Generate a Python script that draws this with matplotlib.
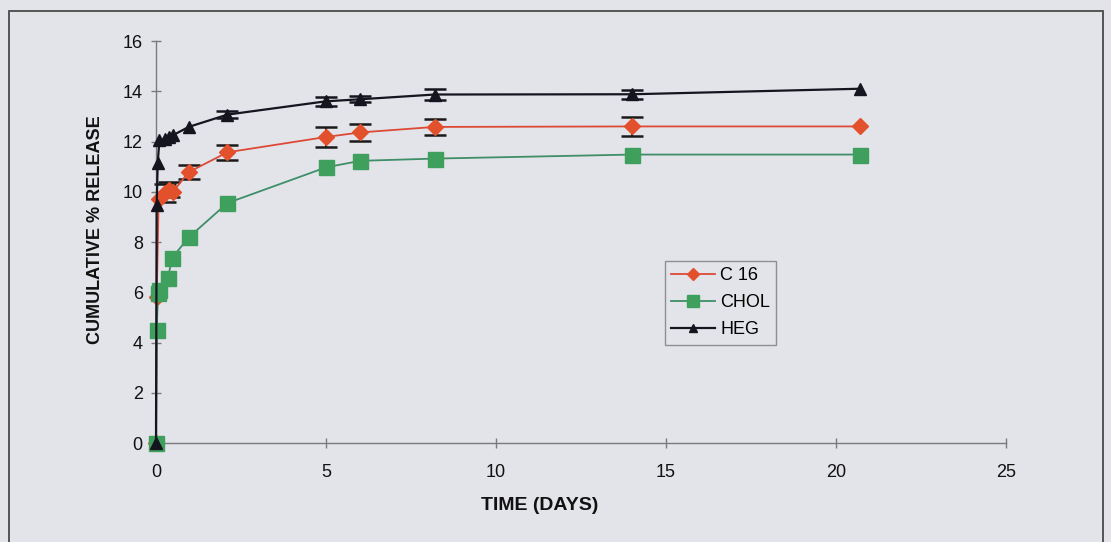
import numpy as np
import matplotlib.pyplot as plt
from matplotlib.patches import Rectangle

plt.rcParams['font.family'] = ['Liberation Sans', 'DejaVu Sans']

# Release data (time in days, cumulative % release, error; 0 = no bar drawn)
c16_time = [0, 0.02, 0.08, 0.25, 0.38, 0.5, 0.96, 2.1, 5, 6, 8.2, 14, 20.7]
c16_release = [0, 5.8, 9.72, 9.95, 10.08, 10.0, 10.78, 11.57, 12.18, 12.36, 12.58, 12.6, 12.6]
c16_err = [0, 0, 0, 0.36, 0.3, 0, 0.29, 0.3, 0.38, 0.35, 0.33, 0.37, 0]

chol_time = [0, 0.02, 0.06, 0.1, 0.35, 0.48, 0.96, 2.1, 5, 6, 8.2, 14, 20.7]
chol_release = [0, 4.5, 5.98, 6.08, 6.58, 7.38, 8.18, 9.55, 10.97, 11.23, 11.32, 11.48, 11.48]

heg_time = [0, 0.02, 0.05, 0.1, 0.25, 0.38, 0.5, 0.96, 2.1, 5, 6, 8.2, 14, 20.7]
heg_release = [0, 9.47, 11.13, 12.05, 12.08, 12.16, 12.25, 12.58, 13.07, 13.6, 13.68, 13.87, 13.88, 14.1]
heg_err = [0, 0, 0, 0, 0, 0, 0, 0, 0.14, 0.17, 0.12, 0.22, 0.17, 0]

x_ticks = [0, 5, 10, 15, 20, 25]
y_ticks = [0, 2, 4, 6, 8, 10, 12, 14, 16]

bg = '#e3e4ea'
fig = plt.figure(figsize=(11.11, 5.42), dpi=100, facecolor=bg)
ax = fig.add_axes([156 / 1111, 1 - 443 / 542, 850 / 1111, 402 / 542])
ax.set_facecolor(bg)

# frame around the whole chart
fig.patches.append(Rectangle((8.5 / 1111, -0.05), (1103 - 8.5) / 1111, 1.05 - 10.5 / 542,
                             transform=fig.transFigure, fill=False,
                             edgecolor='#4a4a4a', linewidth=1.3))


def draw_errors(t, y, err, color):
    t, y, err = np.asarray(t), np.asarray(y), np.asarray(err)
    m = err > 0
    ax.errorbar(t[m], y[m], yerr=err[m], fmt='none', ecolor=color,
                elinewidth=1.3, capsize=8, capthick=1.8, zorder=2, clip_on=False)


draw_errors(c16_time, c16_release, c16_err, '#1a1a1a')
draw_errors(heg_time, heg_release, heg_err, '#151520')

h1, = ax.plot(c16_time, c16_release, color='#dc4a36', lw=1.3,
              marker='D', ms=8.3, mfc='#e2502c', mec='#e2502c',
              label='C 16', zorder=3, clip_on=False)
h2, = ax.plot(chol_time, chol_release, color='#3f8e68', lw=1.3,
              marker='s', ms=10.8, mfc='#3f9f5d', mec='#3f9f5d',
              label='CHOL', zorder=3, clip_on=False)
h3, = ax.plot(heg_time, heg_release, color='#151520', lw=1.6,
              marker='^', ms=8.5, mfc='#151520', mec='#151520',
              label='HEG', zorder=3, clip_on=False)

ax.set_xlim(0, 25)
ax.set_ylim(0, 16)
ax.set_xticks(x_ticks)
ax.set_yticks(y_ticks)
for s in ['top', 'right']:
    ax.spines[s].set_visible(False)
for s in ['left', 'bottom']:
    ax.spines[s].set_color('#7a7a7a')
    ax.spines[s].set_linewidth(1.0)
ax.tick_params(axis='both', direction='inout', length=7, width=1.0,
               color='#7a7a7a', labelsize=13, labelcolor='#111111')
ax.tick_params(axis='x', pad=11.5)
ax.tick_params(axis='y', pad=6)

ax.set_xlabel('TIME (DAYS)', fontsize=14, fontweight='bold', color='#111111')
ax.xaxis.set_label_coords((540 - 156) / 850, -0.135)
ax.set_ylabel('CUMULATIVE % RELEASE', fontsize=13, fontweight='bold', color='#111111')
ax.yaxis.set_label_coords((104 - 156) / 850, (443 - 230) / 402)

leg = ax.legend(handles=[h1, h2, h3], loc='upper left',
                bbox_to_anchor=(665 / 1111, 1 - 261 / 542),
                bbox_transform=fig.transFigure, fontsize=13, frameon=True,
                fancybox=False, handlelength=2.4, handletextpad=0.3,
                labelspacing=0.55, borderpad=0.35, borderaxespad=0,
                markerscale=0.75)
leg.get_frame().set_facecolor(bg)
leg.get_frame().set_edgecolor('#7a7a7a')
leg.get_frame().set_linewidth(1.0)

fig.savefig('out.png', dpi=100, facecolor=bg)
